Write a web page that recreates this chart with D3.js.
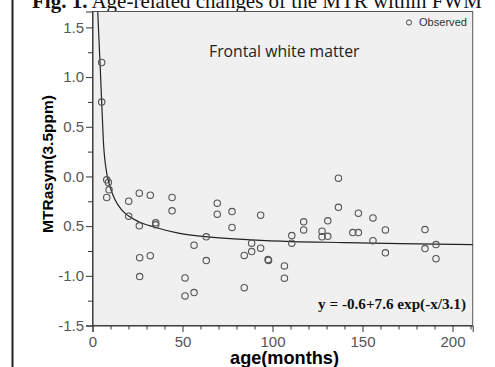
<!DOCTYPE html>
<html><head><meta charset="utf-8">
<script src="https://cdn.jsdelivr.net/npm/d3@7/dist/d3.min.js"></script>
<style>body{margin:0;background:#fff}svg{display:block}</style>
</head><body>
<svg id="chart" width="495" height="367"></svg>
<script>
// ---- data ----
const ageMonths = [5.1,5.1,7.9,8.8,9.2,7.9,20.1,20.1,26.0,26.0,32.1,35.1,35.1,44.2,44.2,26.2,32.1,26.2,51.4,51.4,56.4,56.4,63.2,63.2,69.3,69.3,77.5,77.5,84.3,84.3,88.4,88.4,93.4,93.4,97.5,97.8,106.6,106.6,110.7,110.7,117.3,117.3,127.5,127.5,130.7,130.7,136.6,136.6,144.6,147.7,147.7,155.8,155.8,162.7,162.7,184.7,184.7,190.8,190.8];
const mtrValues = [1.147,0.748,-0.034,-0.061,-0.135,-0.212,-0.249,-0.400,-0.168,-0.497,-0.188,-0.467,-0.487,-0.212,-0.346,-0.817,-0.797,-1.008,-1.021,-1.202,-1.169,-0.692,-0.608,-0.847,-0.269,-0.380,-0.353,-0.513,-0.795,-1.119,-0.672,-0.756,-0.390,-0.722,-0.837,-0.845,-0.900,-1.024,-0.595,-0.672,-0.457,-0.538,-0.551,-0.608,-0.447,-0.603,-0.017,-0.311,-0.565,-0.565,-0.370,-0.417,-0.646,-0.538,-0.769,-0.535,-0.726,-0.686,-0.827];
const fitX = [2.9,4.17,5.11,6.0,7.9,9.7,12.5,16.2,19.9,25.4,34.7,47.7,62.5,88.4,110.7,140.3,170.8,211.6];
const fitY = [1.66,1.147,0.748,0.369,0.033,-0.101,-0.235,-0.336,-0.396,-0.453,-0.511,-0.571,-0.605,-0.638,-0.655,-0.665,-0.676,-0.686];
const yTickValues = [-1.5,-1.0,-0.5,0.0,0.5,1.0,1.5];
const yTickLabels = ["-1.5","-1.0","0.5","0.0","0.5","1.0","1.5"];
const xTickValues = [0,50,100,150,200];
const titleBold = "Fig. 1.";
const titleRest = " Age-related changes of the MTR within FWM";
const panelLabel = "Frontal white matter";
const equationLabel = "y = -0.6+7.6 exp(-x/3.1)";
const legendLabel = "Observed";
const xAxisTitle = "age(months)";
const yAxisTitle = "MTRasym(3.5ppm)";

// ---- layout ----
const L = 92.5, R = 472.7, T = 11.5, B = 325.5;
const svg = d3.select("#chart");
const x = d3.scaleLinear().domain([0, 211.2]).range([L, R]);
const y = d3.scaleLinear().domain([-1.5, 1.66]).range([B, T]);
const sans = "'Liberation Sans', Arial, sans-serif";
const serif = "'Liberation Serif', 'Times New Roman', serif";

function fit(sel, w) {
  const fs = parseFloat(sel.attr("font-size"));
  const len = sel.node().getBBox().width;
  sel.attr("font-size", (fs * w / len).toFixed(2));
}

// outer left border
svg.append("line").attr("x1", 12.5).attr("x2", 12.5).attr("y1", 0).attr("y2", 367)
  .attr("stroke", "#222").attr("stroke-width", 2);

// title (cut off at top, as in the reference)
const TITLE_W = 450;
const title = svg.append("text").attr("x", 32).attr("y", 7.5)
  .attr("font-family", serif).attr("font-size", 19).attr("fill", "#111");
const t1 = title.append("tspan").attr("font-weight", "bold").text(titleBold);
const t2 = title.append("tspan").text(titleRest);
{
  const l1 = t1.node().getComputedTextLength();
  const l2 = t2.node().getComputedTextLength();
  const k = TITLE_W / (l1 + l2);
  title.attr("font-size", (19 * k).toFixed(2));
  const m1 = t1.node().getComputedTextLength();
  const m2 = t2.node().getComputedTextLength();
  const k2 = TITLE_W / (m1 + m2);
  t1.attr("textLength", (m1 * k2).toFixed(2)).attr("lengthAdjust", "spacingAndGlyphs");
  t2.attr("textLength", (m2 * k2).toFixed(2)).attr("lengthAdjust", "spacingAndGlyphs");
}

// plot background
svg.append("rect").attr("x", L).attr("y", T).attr("width", R - L).attr("height", B - T)
  .attr("fill", "#f0f0f0").attr("stroke", "#555").attr("stroke-width", 1);

svg.append("defs").append("clipPath").attr("id", "clip")
  .append("rect").attr("x", L).attr("y", T).attr("width", R - L).attr("height", B - T);

// y axis
const yAxis = d3.axisLeft(y).tickValues(yTickValues).tickSize(6.5).tickPadding(2)
  .tickFormat((d, i) => yTickLabels[i]);
const gy = svg.append("g").attr("transform", `translate(${L},0)`).call(yAxis);
gy.select(".domain").attr("stroke", "#333");
gy.selectAll(".tick line").attr("stroke", "#333");
gy.selectAll(".tick text").attr("font-family", sans).attr("font-size", 15).attr("fill", "#555");
const yMinor = d3.axisLeft(y).tickValues(d3.range(-1.25, 1.6, 0.5)).tickSize(4.5).tickFormat("");
const gym = svg.append("g").attr("transform", `translate(${L},0)`).call(yMinor);
gym.select(".domain").remove();
gym.selectAll(".tick line").attr("stroke", "#333");

// x axis
const xAxis = d3.axisBottom(x).tickValues(xTickValues).tickSize(6.5).tickPadding(4)
  .tickFormat(d3.format("d"));
const gx = svg.append("g").attr("transform", `translate(0,${B})`).call(xAxis);
gx.select(".domain").attr("stroke", "#333");
gx.selectAll(".tick line").attr("stroke", "#333");
gx.selectAll(".tick text").attr("font-family", sans).attr("font-size", 15).attr("fill", "#555");
const xMinor = d3.axisBottom(x).tickValues(d3.range(10, 211, 10).filter(v => v % 50 !== 0))
  .tickSize(4).tickFormat("");
const gxm = svg.append("g").attr("transform", `translate(0,${B})`).call(xMinor);
gxm.select(".domain").remove();
gxm.selectAll(".tick line").attr("stroke", "#333");

// fitted curve
const fitPts = fitX.map((v, i) => [v, fitY[i]]);
svg.append("path").datum(fitPts).attr("clip-path", "url(#clip)")
  .attr("fill", "none").attr("stroke", "#222").attr("stroke-width", 1.2)
  .attr("d", d3.line().x(d => x(d[0])).y(d => y(d[1])).curve(d3.curveMonotoneX));

// observed points
svg.append("g").selectAll("circle").data(ageMonths.map((v, i) => [v, mtrValues[i]]))
  .join("circle").attr("cx", d => x(d[0])).attr("cy", d => y(d[1])).attr("r", 3.2)
  .attr("fill", "none").attr("stroke", "#555").attr("stroke-width", 1.1);

// legend
svg.append("circle").attr("cx", 409).attr("cy", 22.5).attr("r", 2.6)
  .attr("fill", "none").attr("stroke", "#444").attr("stroke-width", 1);
const leg = svg.append("text").attr("x", 419).attr("y", 26).attr("font-family", sans)
  .attr("font-size", 10).attr("fill", "#333").text(legendLabel);
fit(leg, 48);

// panel label
const pl = svg.append("text").attr("x", 209).attr("y", 57).attr("font-family", "'Open Sans', 'Noto Sans', sans-serif")
  .attr("font-size", 14).attr("fill", "#222").text(panelLabel);
fit(pl, 151);

// equation
const eq = svg.append("text").attr("x", 466).attr("y", 309).attr("text-anchor", "end")
  .attr("font-family", serif).attr("font-weight", "bold").attr("font-size", 13)
  .attr("fill", "#111").text(equationLabel);
fit(eq, 148);

// axis titles
const xt = svg.append("text").attr("x", 284.5).attr("y", 364).attr("text-anchor", "middle")
  .attr("font-family", sans).attr("font-weight", "bold").attr("font-size", 15)
  .attr("fill", "#000").text(xAxisTitle);
fit(xt, 109);
const yt = svg.append("text").attr("transform", "translate(53,164) rotate(-90)")
  .attr("text-anchor", "middle").attr("font-family", sans).attr("font-weight", "bold")
  .attr("font-size", 15).attr("fill", "#000").text(yAxisTitle);
fit(yt, 138);
</script>
</body></html>
